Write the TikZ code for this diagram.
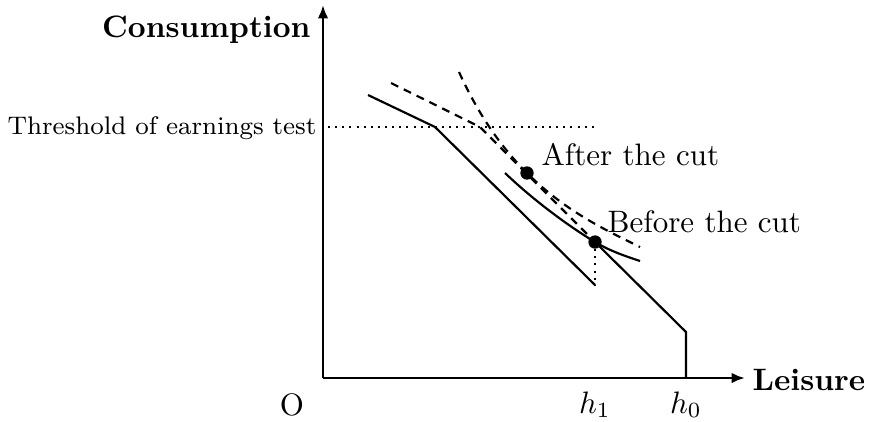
\documentclass[tikz,border=0pt]{standalone}
\usetikzlibrary{arrows.meta}
\begin{document}
\begin{tikzpicture}[x=0.3226pt,y=-0.3226pt,
  axis/.style={line width=0.85pt,-{Latex[length=4.3pt,width=3.4pt]}},
  curve/.style={line width=0.7pt},
  dashcurve/.style={line width=0.7pt,dash pattern=on 2.6pt off 2pt},
  dotline/.style={line width=0.65pt,dash pattern=on 0.65pt off 1.65pt},
  lab/.style={inner sep=0pt,font=\fontsize{10}{12}\selectfont},
  dot/.style={circle,fill=black,inner sep=0pt,minimum size=4.3pt}]
\useasboundingbox (0,0) rectangle (870,421);
% coordinates
\coordinate (O) at (323,378);
\coordinate (ytop) at (323,5);
\coordinate (xend) at (745,378);
\coordinate (a0) at (368,95);
\coordinate (a1) at (435,127);
\coordinate (a2) at (595,285);
\coordinate (b0) at (391,83);
\coordinate (b1) at (480,127);
\coordinate (E1) at (595,242);
\coordinate (E2) at (527,173);
\coordinate (c1) at (686,332);
\coordinate (h0b) at (686,378);
\coordinate (t0) at (328,127);
\coordinate (t1) at (594,127);
% axes
\draw[axis] (O) -- (ytop);
\draw[axis] (O) -- (xend);
% threshold
\draw[dotline] (t0) -- (t1);
% budget lines
\draw[curve] (a0) -- (a1) -- (a2);
\draw[curve] (E1) -- (c1) -- (h0b);
\draw[dashcurve] (b0) -- (b1) -- (E1);
\draw[dotline] (E1) -- (a2);
% indifference curves
\draw[curve] (505,173) .. controls (530,197) and (565,224) .. (E1)
  .. controls (610,251) and (625,256) .. (640,261);
\draw[dashcurve] (459,72) .. controls (479,116) and (502,148) .. (E2)
  .. controls (567,213) and (610,232) .. (640,247);
% dots
\node[dot] (dE1) at (E1) {};
\node[dot] (dE2) at (E2) {};
% labels
\node[lab,anchor=base east,font=\fontsize{10}{12}\selectfont\bfseries] (cons) at (311,37) {Consumption};
\node[lab,anchor=base west,font=\fontsize{10}{12}\selectfont\bfseries] (leis) at (752,390) {Leisure};
\node[lab,anchor=base west,font=\fontsize{8.2}{10}\selectfont] (thr) at (7,134) {Threshold of earnings test};
\node[lab,anchor=base west] (after) at (541,165) {After the cut};
\node[lab,anchor=base west] (before) at (607,232) {Before the cut};
\node[lab,anchor=base] (o) at (292,415) {O};
\node[lab,anchor=base] (h1) at (595,413) {$h_1$};
\node[lab,anchor=base] (h0) at (686,413) {$h_0$};
\end{tikzpicture}
\end{document}
